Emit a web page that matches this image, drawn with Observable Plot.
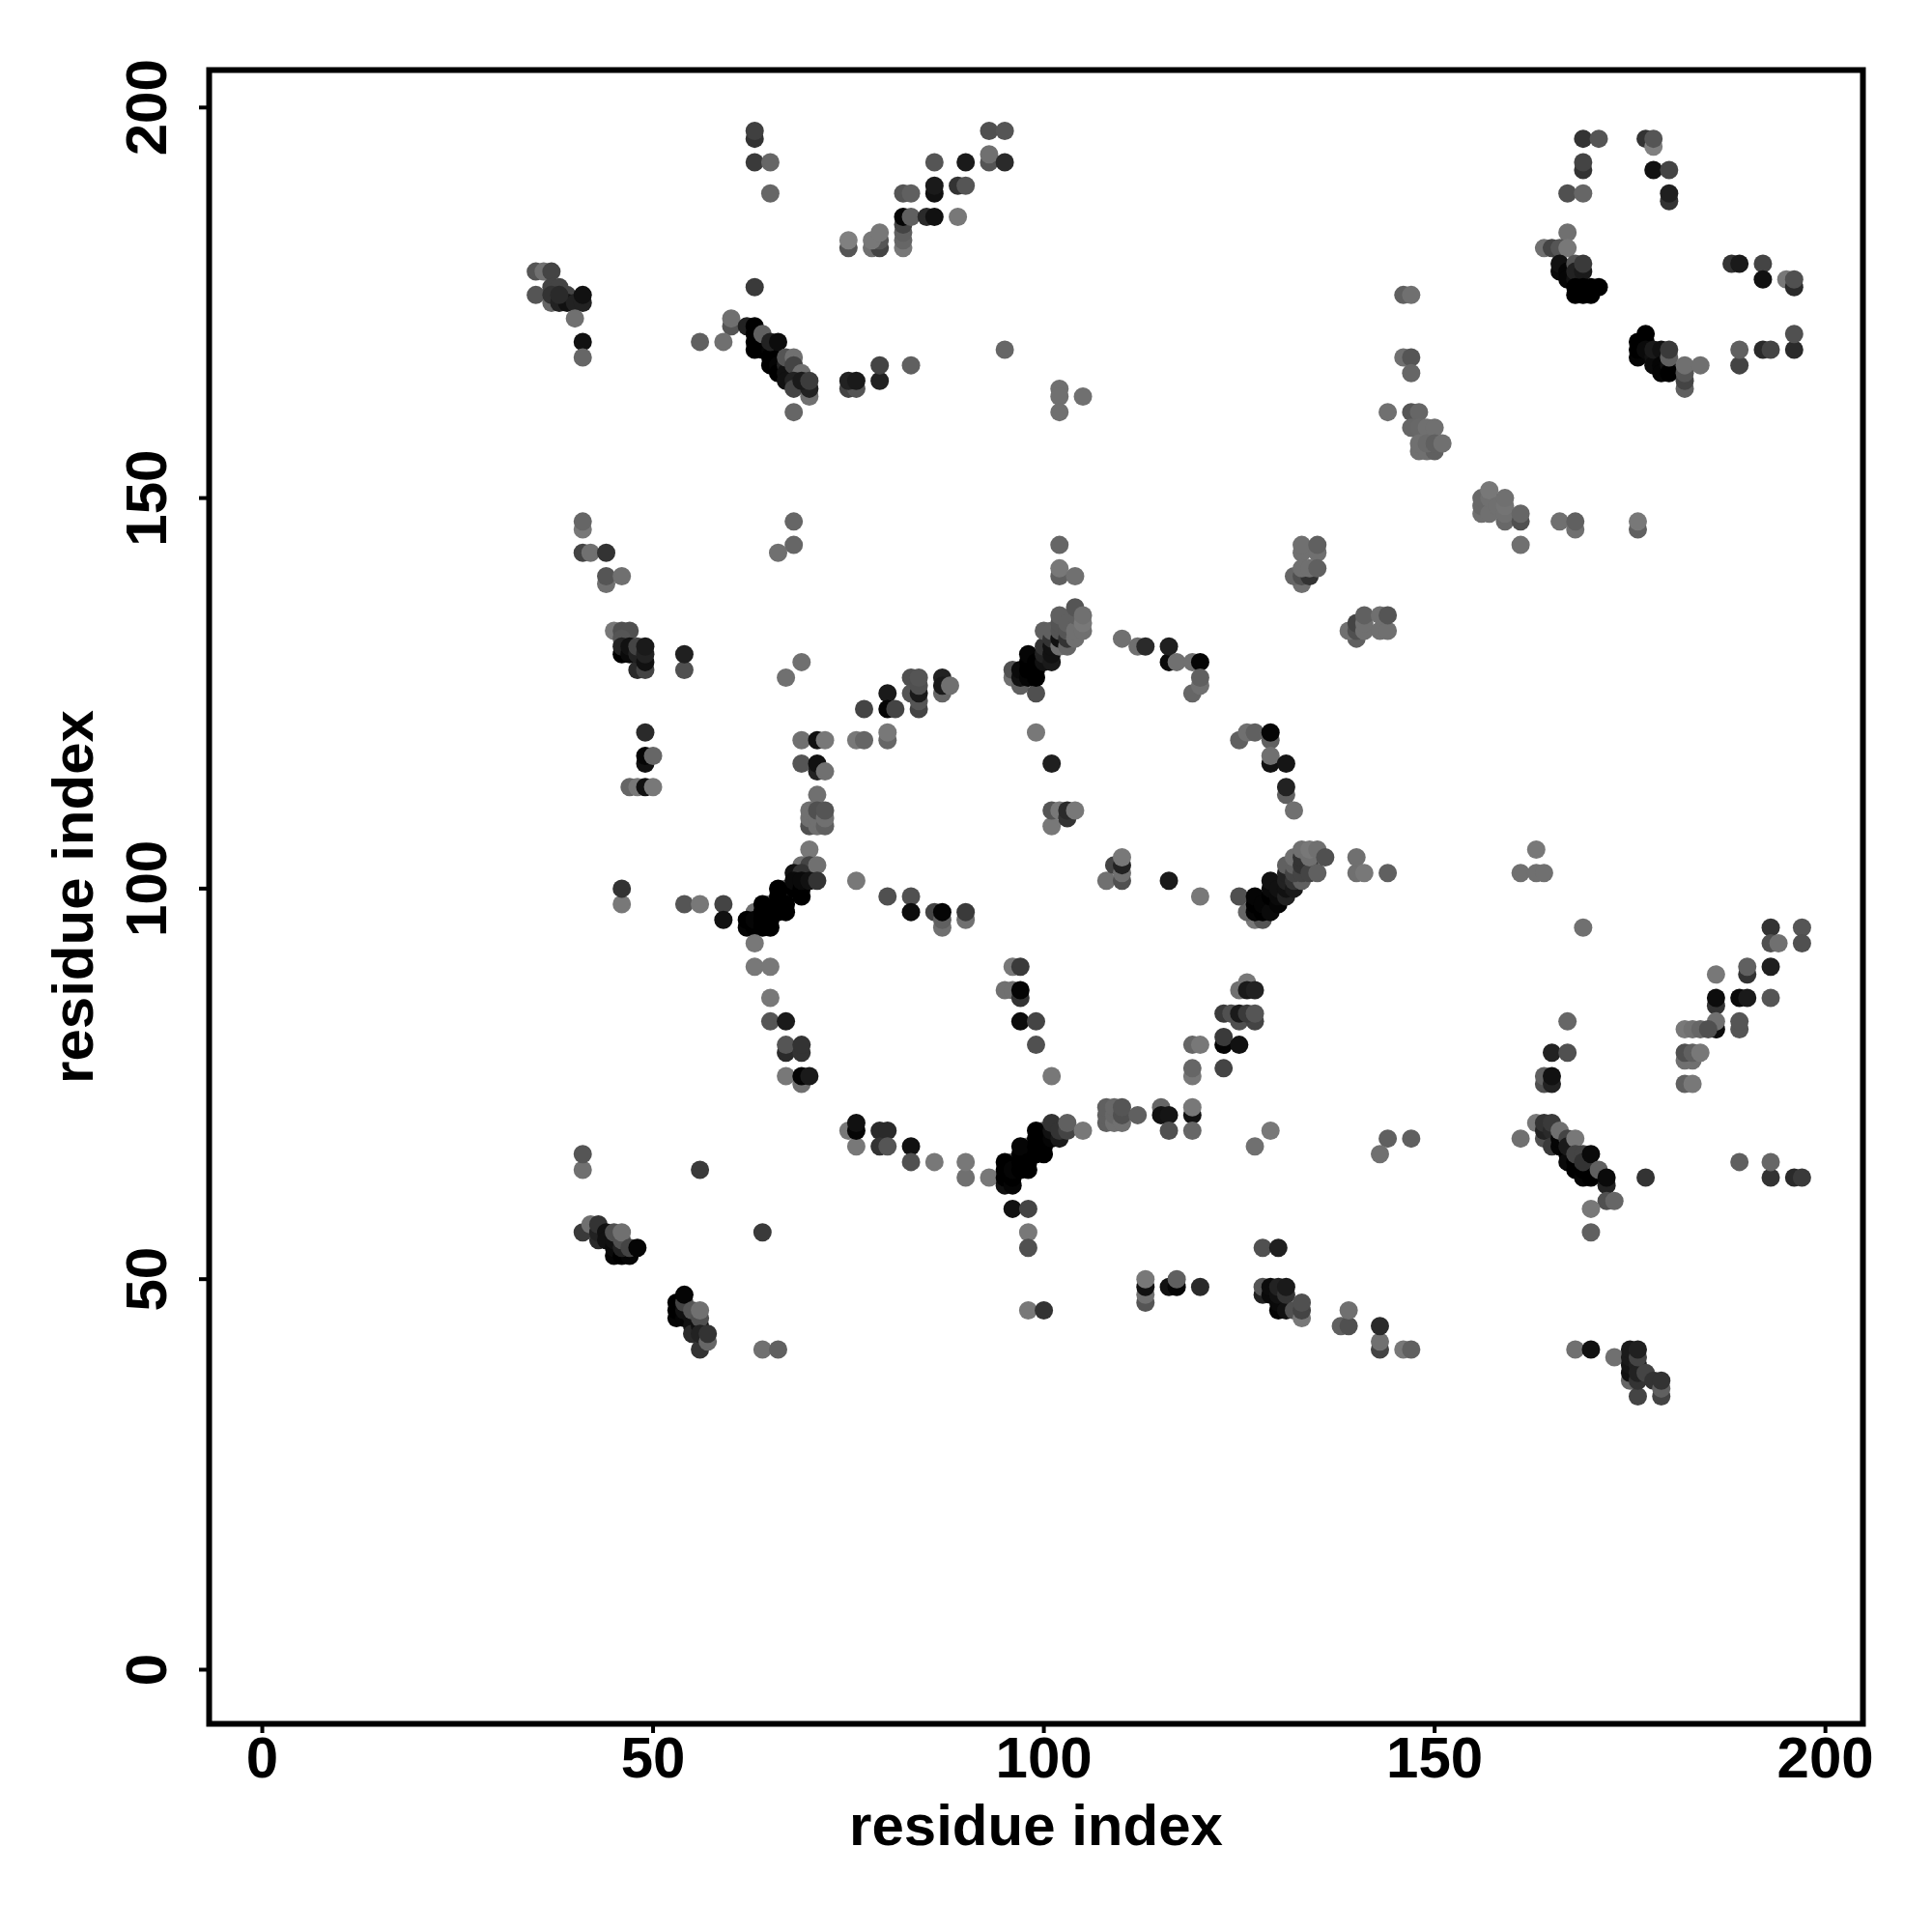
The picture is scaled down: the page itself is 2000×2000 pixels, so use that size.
<!DOCTYPE html>
<html>
<head>
<meta charset="utf-8">
<script src="https://cdn.jsdelivr.net/npm/d3@7"></script>
<script src="https://cdn.jsdelivr.net/npm/@observablehq/plot@0.6"></script>
<style>
html,body{margin:0;padding:0;background:#fff}
svg{display:block;max-width:none}
</style>
</head>
<body>
<div id="chart"></div>
<script>
// Each contact: [residue i, residue j, grey level of the dot]
const topLeft = [[35,179,0x55],[36,179,0x70],[37,179,0x44],[35,176,0x55],[37,175,0x66],[37,177,0x44],[38,177,0x44],[37,176,0x33],[38,175,0x22],[39,176,0x44],[39,175,0x11],[40,175,0x22],[38,176,0x2a],[41,175,0x22],[41,176,0x11],[40,173,0x70],[41,170,0x11],[41,168,0x66]];
const topColumn63 = [[63,196,0x33],[63,197,0x40],[63,193,0x3a],[65,193,0x66],[65,189,0x66],[63,177,0x3a]];
const topDiagDown = [[60,172,0x55],[60,173,0x70],[56,170,0x60],[59,170,0x70],[62,172,0x22],[63,172,0x00],[63,171,0x00],[63,170,0x00],[63,169,0x00],[64,170,0x00],[64,169,0x00],[65,169,0x05],[65,168,0x00],[65,167,0x00],[66,168,0x00],[66,167,0x05],[66,166,0x00],[67,167,0x22],[67,166,0x11],[67,165,0x11],[64,171,0x60],[65,170,0x22],[66,170,0x0c],[67,168,0x55],[68,168,0x70],[68,167,0x44],[69,166,0x70],[68,165,0x22],[68,164,0x44],[70,163,0x70],[70,164,0x22],[69,165,0x1a],[70,165,0x3c],[68,161,0x66],[75,164,0x44],[76,164,0x55],[75,165,0x22],[76,165,0x1a],[79,165,0x22],[79,167,0x44],[83,167,0x60]];
const topDiagUp = [[75,182,0x55],[75,183,0x80],[78,182,0x70],[79,182,0x44],[79,183,0x55],[78,183,0x78],[79,184,0x78],[82,182,0x78],[82,183,0x66],[82,184,0x60],[82,185,0x44],[82,186,0x05],[83,186,0x60],[85,186,0x2a],[86,186,0x11],[89,186,0x78],[82,189,0x55],[83,189,0x60],[86,189,0x11],[86,190,0x1a],[86,193,0x55],[89,190,0x33],[90,190,0x55],[90,193,0x1a],[93,193,0x55],[93,194,0x70],[95,193,0x2a],[93,197,0x50],[95,197,0x55],[95,169,0x66]];
const upperMiddle = [[102,164,0x70],[102,163,0x70],[102,161,0x70],[105,163,0x70],[146,176,0x60],[147,176,0x70],[146,168,0x70],[147,168,0x55],[147,166,0x66],[144,161,0x70],[147,161,0x55],[148,161,0x66],[147,159,0x66],[148,159,0x68],[149,159,0x70],[150,159,0x70],[148,156,0x70],[149,156,0x70],[150,156,0x60],[148,157,0x70],[149,157,0x6a],[150,157,0x60],[151,157,0x70]];
const topRight = [[169,196,0x33],[171,196,0x55],[177,196,0x33],[178,195,0x80],[178,196,0x55],[169,192,0x33],[169,193,0x44],[178,192,0x11],[180,192,0x44],[180,188,0x33],[180,189,0x1f],[167,189,0x50],[169,189,0x66],[167,184,0x70],[164,182,0x70],[165,182,0x44],[166,182,0x55],[167,182,0x78],[166,179,0x0a],[166,180,0x11],[167,179,0x05],[167,178,0x05],[168,178,0x11],[168,180,0x55],[168,179,0x22],[169,179,0x1a],[169,180,0x3a],[168,177,0x00],[168,176,0x00],[169,176,0x00],[170,176,0x00],[169,177,0x00],[170,177,0x00],[171,177,0x00]];
const rightUpper = [[176,168,0x05],[176,169,0x00],[176,170,0x00],[177,170,0x00],[177,171,0x00],[177,169,0x0a],[178,168,0x11],[178,167,0x0a],[178,169,0x1a],[179,169,0x11],[179,167,0x05],[179,166,0x05],[180,167,0x11],[180,166,0x00],[180,168,0x60],[180,169,0x3a],[182,164,0x60],[182,165,0x44],[182,166,0x55],[182,167,0x70],[184,167,0x70],[188,180,0x33],[189,180,0x1a],[192,180,0x44],[192,178,0x11],[195,178,0x78],[196,177,0x2a],[196,178,0x50],[196,169,0x2a],[196,171,0x50],[189,167,0x44],[189,169,0x60],[192,169,0x2a],[193,169,0x44]];
const midRight150 = [[156,148,0x70],[156,149,0x68],[156,150,0x68],[157,148,0x70],[157,150,0x70],[157,151,0x78],[158,149,0x70],[159,147,0x68],[159,148,0x70],[159,149,0x74],[159,150,0x70],[161,147,0x50],[161,148,0x66],[161,144,0x70],[166,147,0x70],[168,146,0x70],[168,147,0x60],[176,146,0x60],[176,147,0x78]];
const leftMid = [[41,146,0x78],[41,147,0x66],[41,143,0x44],[42,143,0x70],[44,143,0x33],[44,139,0x70],[44,140,0x55],[46,140,0x70],[45,133,0x78],[46,133,0x50],[47,133,0x50],[46,132,0x55],[46,130,0x00],[46,131,0x22],[47,130,0x0a],[47,131,0x11],[48,128,0x2a],[48,130,0x22],[48,131,0x44],[49,128,0x44],[49,129,0x11],[49,130,0x22],[49,131,0x1a],[54,128,0x50],[54,130,0x20],[49,120,0x2a],[49,116,0x11],[49,117,0x05],[50,117,0x66],[47,113,0x66],[48,113,0x78],[49,113,0x11],[50,113,0x78],[46,98,0x78],[46,100,0x33]];
const innerUpperLeft = [[68,147,0x66],[68,144,0x66],[66,143,0x70],[69,129,0x70],[67,127,0x70],[77,123,0x44],[80,125,0x1a],[80,123,0x05],[81,123,0x44],[83,127,0x50],[83,125,0x55],[84,123,0x44],[84,124,0x55],[84,125,0x1a],[84,126,0x50],[84,127,0x55],[87,125,0x66],[87,127,0x22],[87,126,0x1a],[88,126,0x70],[69,119,0x70],[71,119,0x11],[72,119,0x78],[76,119,0x78],[77,119,0x66],[80,119,0x66],[80,120,0x78],[69,116,0x55],[71,115,0x22],[71,116,0x11],[72,115,0x70],[71,112,0x70],[70,108,0x50],[70,109,0x70],[70,110,0x70],[71,108,0x70],[71,109,0x70],[71,110,0x50],[72,108,0x60],[72,109,0x70],[72,110,0x55],[70,105,0x78]];
const diagCentreLeft = [[67,100,0x70],[67,99,0x70],[65,98,0x70],[65,97,0x70],[63,97,0x70],[69,103,0x70],[70,103,0x44],[68,102,0x11],[69,102,0x33],[71,103,0x70],[62,95,0x05],[62,96,0x00],[63,95,0x00],[63,96,0x05],[64,95,0x00],[64,96,0x00],[64,97,0x00],[64,98,0x00],[65,95,0x00],[65,96,0x00],[66,97,0x00],[66,98,0x00],[66,99,0x00],[66,100,0x00],[67,97,0x00],[67,98,0x00],[68,100,0x00],[68,101,0x0a],[69,99,0x00],[69,100,0x00],[69,101,0x0a],[70,101,0x11],[71,101,0x33],[54,98,0x55],[56,98,0x78],[59,98,0x44],[59,96,0x11],[76,101,0x78]];
const lowerLeftRing = [[63,93,0x78],[63,90,0x78],[65,90,0x78],[65,86,0x78],[65,83,0x55],[67,83,0x1a],[67,79,0x2a],[67,80,0x55],[69,79,0x33],[69,80,0x33],[67,76,0x78],[69,75,0x70],[69,76,0x05],[70,76,0x1a],[80,99,0x50],[83,99,0x50],[83,97,0x0c],[86,97,0x44],[87,95,0x70],[87,96,0x60],[87,97,0x05],[90,96,0x70],[90,97,0x3a],[75,69,0x78],[76,67,0x78],[76,69,0x05],[76,70,0x11],[79,69,0x2a],[80,69,0x2a],[79,67,0x33],[80,67,0x55],[83,67,0x11],[83,65,0x50],[86,65,0x78],[90,63,0x70],[90,65,0x78],[93,63,0x78],[41,64,0x70],[41,66,0x55],[56,64,0x3a]];
const diagCentreLower = [[96,65,0x70],[98,67,0x70],[98,66,0x70],[100,68,0x70],[100,69,0x60],[95,62,0x10],[95,63,0x00],[95,64,0x00],[95,65,0x00],[96,62,0x05],[96,63,0x00],[96,64,0x05],[97,64,0x00],[97,65,0x00],[97,66,0x00],[97,67,0x05],[98,64,0x00],[98,65,0x00],[99,66,0x00],[99,67,0x00],[99,68,0x00],[99,69,0x00],[100,66,0x00],[100,67,0x00],[101,68,0x05],[101,69,0x11],[101,70,0x33],[102,68,0x1a],[102,69,0x33],[103,69,0x44],[103,70,0x60],[105,69,0x78],[96,59,0x11],[98,59,0x44],[98,56,0x78],[98,54,0x50],[98,46,0x78],[100,46,0x33]];
const centreLower = [[108,70,0x60],[108,71,0x60],[108,72,0x60],[109,70,0x70],[109,71,0x68],[109,72,0x68],[110,70,0x70],[110,71,0x50],[110,72,0x55],[112,71,0x60],[115,72,0x66],[115,71,0x11],[116,71,0x15],[116,69,0x50],[119,71,0x11],[119,72,0x78],[119,69,0x66],[119,80,0x66],[120,80,0x78],[119,76,0x78],[119,77,0x66],[123,80,0x05],[123,81,0x3a],[125,80,0x11],[123,77,0x44],[125,83,0x50],[127,83,0x44],[123,84,0x3a],[124,84,0x50],[125,84,0x1a],[126,84,0x3a],[127,84,0x55],[125,87,0x70],[126,88,0x78],[126,87,0x1a],[127,87,0x22],[129,69,0x78],[127,67,0x70],[144,68,0x60],[147,68,0x60],[143,66,0x70],[96,90,0x78],[97,90,0x3a],[95,87,0x70],[96,87,0x70],[97,86,0x33],[97,87,0x05],[97,83,0x0c],[99,83,0x44],[99,80,0x50],[101,76,0x78]];
const bottomMiddle = [[113,47,0x55],[113,48,0x70],[113,49,0x11],[113,50,0x78],[116,49,0x11],[117,49,0x05],[117,50,0x60],[120,49,0x2a],[128,54,0x50],[130,54,0x1f],[128,48,0x22],[128,49,0x55],[129,48,0x0a],[129,49,0x0c],[130,46,0x05],[130,47,0x0a],[130,48,0x11],[130,49,0x22],[131,46,0x11],[131,48,0x33],[131,49,0x1a],[132,46,0x50],[133,45,0x78],[133,46,0x44],[133,47,0x50],[138,44,0x60],[139,44,0x50],[139,46,0x70],[143,41,0x44],[143,42,0x70],[143,44,0x2a],[146,41,0x78],[147,41,0x60]];
const lowerRight = [[161,68,0x70],[163,70,0x78],[164,68,0x50],[164,69,0x22],[164,70,0x33],[165,69,0x2a],[165,67,0x3a],[165,70,0x3a],[166,67,0x05],[166,68,0x05],[167,66,0x00],[167,65,0x0a],[168,65,0x00],[168,64,0x00],[169,63,0x05],[169,64,0x00],[170,63,0x00],[170,64,0x00],[166,69,0x70],[167,68,0x44],[167,67,0x1a],[168,68,0x78],[168,66,0x44],[169,66,0x44],[169,65,0x33],[170,66,0x0a],[171,64,0x60],[172,62,0x22],[172,63,0x0a],[172,60,0x50],[173,60,0x66],[170,59,0x78],[170,56,0x60],[177,63,0x33]];
const bottomRight = [[168,41,0x70],[170,41,0x11],[173,40,0x70],[175,37,0x66],[175,38,0x11],[175,39,0x15],[175,40,0x1a],[175,41,0x1a],[176,39,0x22],[176,35,0x44],[176,37,0x33],[176,38,0x22],[176,40,0x44],[176,41,0x20],[177,38,0x44],[178,37,0x33],[179,35,0x44],[179,36,0x60],[179,37,0x33]];
const bottomLeft = [[41,56,0x3a],[42,57,0x70],[43,55,0x2a],[43,56,0x22],[43,57,0x33],[44,56,0x11],[44,55,0x11],[45,53,0x05],[45,54,0x0a],[45,55,0x11],[46,53,0x00],[47,53,0x05],[45,56,0x50],[46,54,0x22],[46,55,0x50],[46,56,0x70],[47,54,0x44],[48,54,0x05],[64,56,0x3a],[53,45,0x05],[53,46,0x00],[53,47,0x00],[54,45,0x05],[54,46,0x11],[54,47,0x44],[54,48,0x05],[55,45,0x11],[55,44,0x11],[55,43,0x2a],[55,46,0x55],[56,44,0x11],[56,45,0x50],[56,46,0x70],[56,41,0x33],[56,43,0x22],[57,42,0x66],[57,43,0x33],[64,41,0x70],[66,41,0x60]];
const centreUpper = [[102,144,0x66],[102,140,0x60],[102,141,0x78],[104,140,0x70],[96,127,0x70],[96,128,0x50],[97,126,0x60],[99,125,0x50],[97,127,0x11],[97,128,0x0a],[98,127,0x05],[98,128,0x00],[98,129,0x00],[98,130,0x05],[99,127,0x00],[99,128,0x00],[99,129,0x00],[100,129,0x11],[100,130,0x22],[100,131,0x33],[100,133,0x60],[101,129,0x1a],[101,130,0x11],[101,131,0x11],[101,132,0x33],[101,133,0x60],[102,131,0x70],[102,132,0x11],[102,133,0x55],[102,134,0x55],[102,135,0x60],[103,131,0x66],[103,132,0x33],[103,133,0x55],[103,134,0x60],[104,132,0x70],[104,133,0x70],[104,135,0x60],[104,136,0x55],[105,133,0x70],[105,134,0x78],[105,135,0x70],[110,132,0x70],[112,131,0x70],[113,131,0x2a],[116,129,0x0a],[116,131,0x1f],[117,129,0x70],[119,129,0x70],[120,129,0x05],[119,125,0x66],[120,126,0x70],[120,127,0x60],[99,120,0x78],[101,116,0x1f],[101,108,0x78],[101,110,0x55],[102,110,0x78],[103,109,0x33],[103,110,0x2a],[104,110,0x78]];
const ringRight = [[125,119,0x60],[126,120,0x70],[127,120,0x60],[129,119,0x60],[129,120,0x05],[129,116,0x11],[129,117,0x70],[131,116,0x15],[131,112,0x60],[131,113,0x22],[132,110,0x70],[133,143,0x70],[133,144,0x70],[135,143,0x70],[135,144,0x60],[133,139,0x70],[132,140,0x66],[133,140,0x50],[134,140,0x33],[133,141,0x70],[134,141,0x70],[135,141,0x60],[140,132,0x60],[139,133,0x70],[140,133,0x50],[140,134,0x44],[141,133,0x70],[141,134,0x70],[141,135,0x60],[143,133,0x70],[144,133,0x70],[143,135,0x70],[144,135,0x55]];
const diagCentreRight = [[108,101,0x70],[109,103,0x44],[110,101,0x50],[110,102,0x70],[110,103,0x22],[110,104,0x78],[116,101,0x1a],[120,99,0x78],[127,96,0x78],[128,96,0x55],[126,97,0x66],[125,99,0x50],[127,97,0x05],[127,98,0x00],[127,99,0x05],[128,97,0x00],[128,98,0x05],[129,97,0x0a],[129,99,0x00],[129,100,0x0a],[129,101,0x11],[130,98,0x05],[130,99,0x0a],[130,100,0x11],[131,99,0x22],[131,100,0x11],[131,101,0x22],[131,102,0x22],[131,103,0x60],[132,100,0x1a],[132,101,0x33],[133,101,0x60],[132,102,0x44],[132,103,0x60],[132,104,0x70],[133,102,0x44],[133,103,0x33],[133,104,0x33],[133,105,0x70],[134,103,0x33],[134,102,0x44],[134,104,0x70],[134,105,0x78],[135,102,0x60],[135,105,0x70],[136,104,0x50],[140,102,0x70],[140,104,0x70],[141,102,0x78],[144,102,0x60]];
const rightMiddle = [[163,105,0x78],[161,102,0x70],[163,102,0x70],[164,102,0x70],[169,95,0x70],[167,83,0x66],[165,79,0x22],[167,79,0x50],[164,75,0x50],[164,76,0x60],[165,75,0x22],[165,76,0x11],[193,95,0x33],[197,95,0x55],[193,93,0x50],[194,93,0x70],[197,93,0x50],[190,89,0x33],[190,90,0x60],[193,90,0x1f],[186,89,0x78],[186,85,0x33],[186,86,0x0c],[189,86,0x0a],[190,86,0x1a],[193,86,0x55],[186,82,0x0c],[186,83,0x70],[189,82,0x55],[189,83,0x55],[182,82,0x78],[183,82,0x70],[184,82,0x66],[185,82,0x50],[182,78,0x70],[183,78,0x70],[182,79,0x50],[183,79,0x60],[184,79,0x78],[182,75,0x60],[183,75,0x78],[189,65,0x60],[193,63,0x33],[193,65,0x66],[196,63,0x2a],[197,63,0x3a]];

const contacts = [topLeft, topColumn63, topDiagDown, topDiagUp, upperMiddle, topRight, rightUpper, midRight150, leftMid, innerUpperLeft, diagCentreLeft, lowerLeftRing, diagCentreLower, centreLower, bottomMiddle, lowerRight, bottomRight, bottomLeft, centreUpper, ringRight, diagCentreRight, rightMiddle]
  .flat().map(([i, j, shade]) => ({i, j, shade}));

const tickValues = [0, 50, 100, 150, 200];

const chart = Plot.plot({
  width: 2000,
  height: 2000,
  marginLeft: 216,
  marginRight: 72,
  marginTop: 72,
  marginBottom: 216,
  style: {fontFamily: "'Liberation Sans', Arial, sans-serif", fontWeight: "bold", fontSize: "60px", color: "#000", background: "#fff", overflow: "visible"},
  x: {domain: [-6.8, 204.8]},
  y: {domain: [-6.93, 204.8]},
  color: {type: "linear", domain: [0, 128], range: ["#000000", "#808080"]},
  marks: [
    Plot.dot(contacts, {x: "i", y: "j", r: 9.5, fill: "shade", stroke: "none"}),
    Plot.frame({stroke: "#000", strokeWidth: 6}),
    Plot.axisX({ticks: tickValues, tickSize: 10, strokeWidth: 4, tickPadding: 3, label: "residue index", labelAnchor: "center", labelArrow: "none", labelOffset: 125, fill: "#000"}),
    Plot.axisY({ticks: tickValues, tickSize: 10, strokeWidth: 4, tickPadding: 35, tickRotate: -90, label: "residue index", labelAnchor: "center", labelArrow: "none", labelOffset: 163, fill: "#000"})
  ]
});
document.getElementById("chart").append(chart);
</script>
</body>
</html>
